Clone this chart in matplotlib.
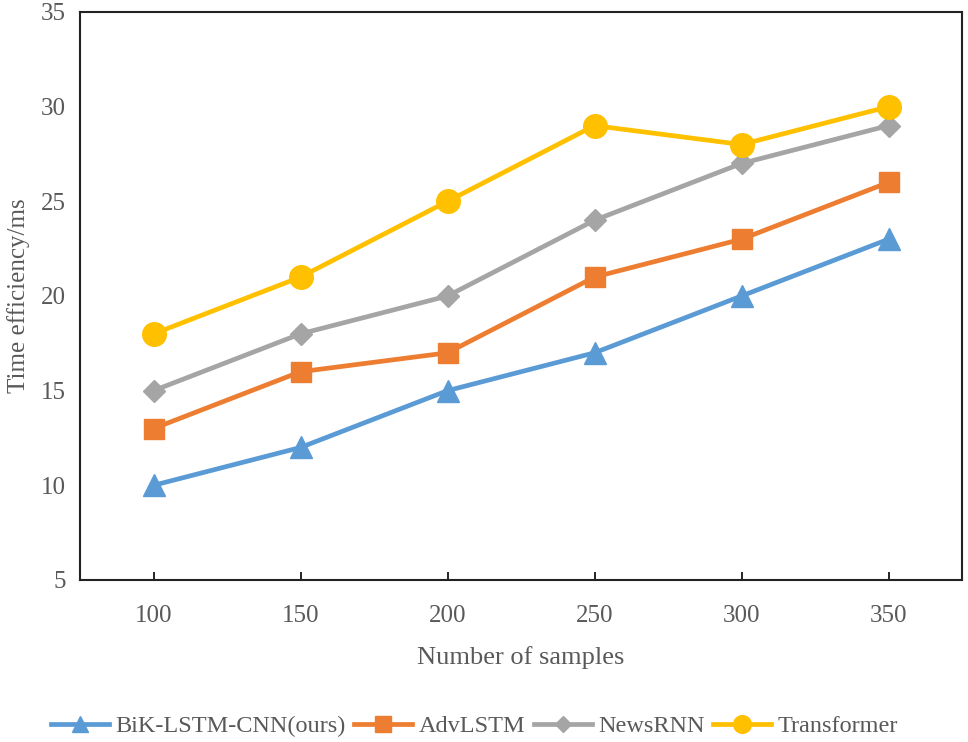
import matplotlib
matplotlib.use("Agg")
import matplotlib.pyplot as plt

samples = ["100", "150", "200", "250", "300", "350"]
bik = [10, 12, 15, 17, 20, 23]
adv = [13, 16, 17, 21, 23, 26]
news = [15, 18, 20, 24, 27, 29]
trans = [18, 21, 25, 29, 28, 30]
series_names = ["BiK-LSTM-CNN(ours)", "AdvLSTM", "NewsRNN", "Transformer"]

plt.rcParams['font.family'] = ['Liberation Serif', 'DejaVu Serif']
txt = '#595959'

fig = plt.figure(figsize=(9.68, 7.42), dpi=100)
ax = fig.add_axes([80/968, (742-580)/742, (962-80)/968, (580-12)/742])

x = list(range(len(samples)))
ax.plot(x, bik, color='#5B9BD5', lw=3.4, marker='^', ms=16, label=series_names[0])
ax.plot(x, adv, color='#ED7D31', lw=3.4, marker='s', ms=15, label=series_names[1])
ax.plot(x, news, color='#A5A5A5', lw=3.4, marker='D', ms=11, label=series_names[2])
ax.plot(x, trans, color='#FFC000', lw=3.4, marker='o', ms=17, label=series_names[3])

ax.set_xlim(-0.5, len(samples) - 0.5)
ax.set_ylim(5, 35)
ax.set_xticks(x)
ax.set_xticklabels(samples)
ax.set_yticks([5, 10, 15, 20, 25, 30, 35])
ax.tick_params(axis='x', direction='in', length=6, width=1.2, colors='black', labelcolor=txt, labelsize=18, pad=18)
ax.tick_params(axis='y', length=0, labelcolor=txt, labelsize=18, pad=10)
for s in ax.spines.values():
    s.set_linewidth(1.5)
    s.set_color('#222222')

ax.set_xlabel("Number of samples", fontsize=19, color=txt, labelpad=14)
ax.set_ylabel("Time efficiency/ms", fontsize=18, color=txt)
ax.yaxis.set_label_coords(-(80-30)/882, 0.5)

leg = fig.legend(loc='center', bbox_to_anchor=(0.49, 1 - 726/742), ncol=4, frameon=False,
                 fontsize=17.5, handlelength=2.4, handletextpad=0.25, columnspacing=0.35,
                 markerscale=0.75)
for t in leg.get_texts():
    t.set_color(txt)

fig.savefig("out.png", dpi=100)
